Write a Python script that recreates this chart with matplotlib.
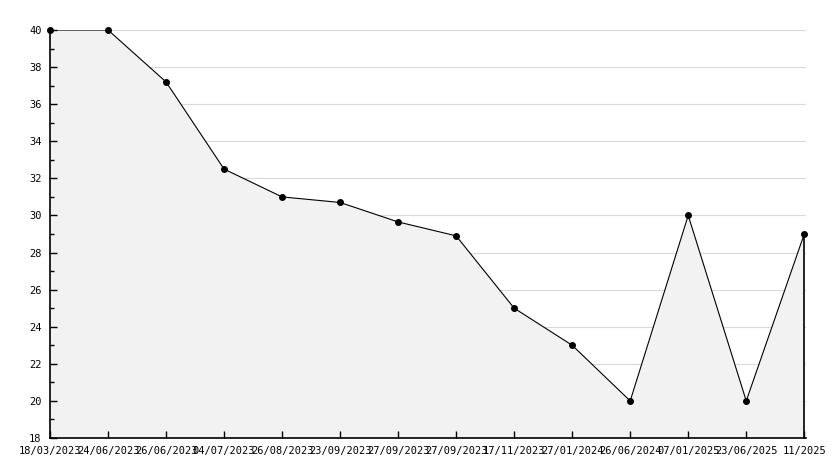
import matplotlib
matplotlib.use("Agg")
import matplotlib.pyplot as plt
from matplotlib.ticker import MultipleLocator

dates = ["18/03/2023", "24/06/2023", "26/06/2023", "04/07/2023", "26/08/2023",
         "23/09/2023", "27/09/2023", "27/09/2023", "17/11/2023", "27/01/2024",
         "26/06/2024", "07/01/2025", "23/06/2025", "11/2025"]
values = [40, 40, 37.2, 32.5, 31.0, 30.7, 29.65, 28.9, 25.0, 23.0, 20.0, 30.0, 20.0, 29.0]

fig = plt.figure(figsize=(8.34, 4.68), dpi=100)
ax = fig.add_axes([50/834, 30/468, 756/834, 408/468])

x = list(range(len(values)))
ax.fill_between(x, values, 18, color="#f2f2f2", zorder=1, linewidth=0)
ax.plot(x, values, color="black", linewidth=0.8, zorder=3)
ax.plot(x, values, linestyle="none", marker="o", markersize=4.0, color="black",
        zorder=4, clip_on=False)
ax.plot([x[-1], x[-1]], [18, values[-1]], color="black", linewidth=1.2, zorder=3)

ax.set_xlim(0, 13.03)
ax.set_ylim(18, 40)
ax.yaxis.set_major_locator(MultipleLocator(2))
ax.yaxis.set_minor_locator(MultipleLocator(1))
ax.set_xticks(x)
ax.set_xticklabels(dates)
for v in range(20, 41, 2):
    ax.axhline(v, color="#d9d9d9", linewidth=0.8, zorder=0.5)

for s in ["top", "right"]:
    ax.spines[s].set_visible(False)
for s in ["left", "bottom"]:
    ax.spines[s].set_linewidth(1.2)
    ax.spines[s].set_zorder(5)

ax.tick_params(axis="both", which="major", direction="in", length=5, width=1,
               labelsize=7.5, pad=6)
ax.tick_params(axis="y", which="minor", direction="in", length=3, width=1)
ax.tick_params(axis="x", pad=5.5)
for lab in ax.get_xticklabels() + ax.get_yticklabels():
    lab.set_fontfamily("DejaVu Sans Mono")

fig.savefig("out.png", dpi=100, facecolor="white")
